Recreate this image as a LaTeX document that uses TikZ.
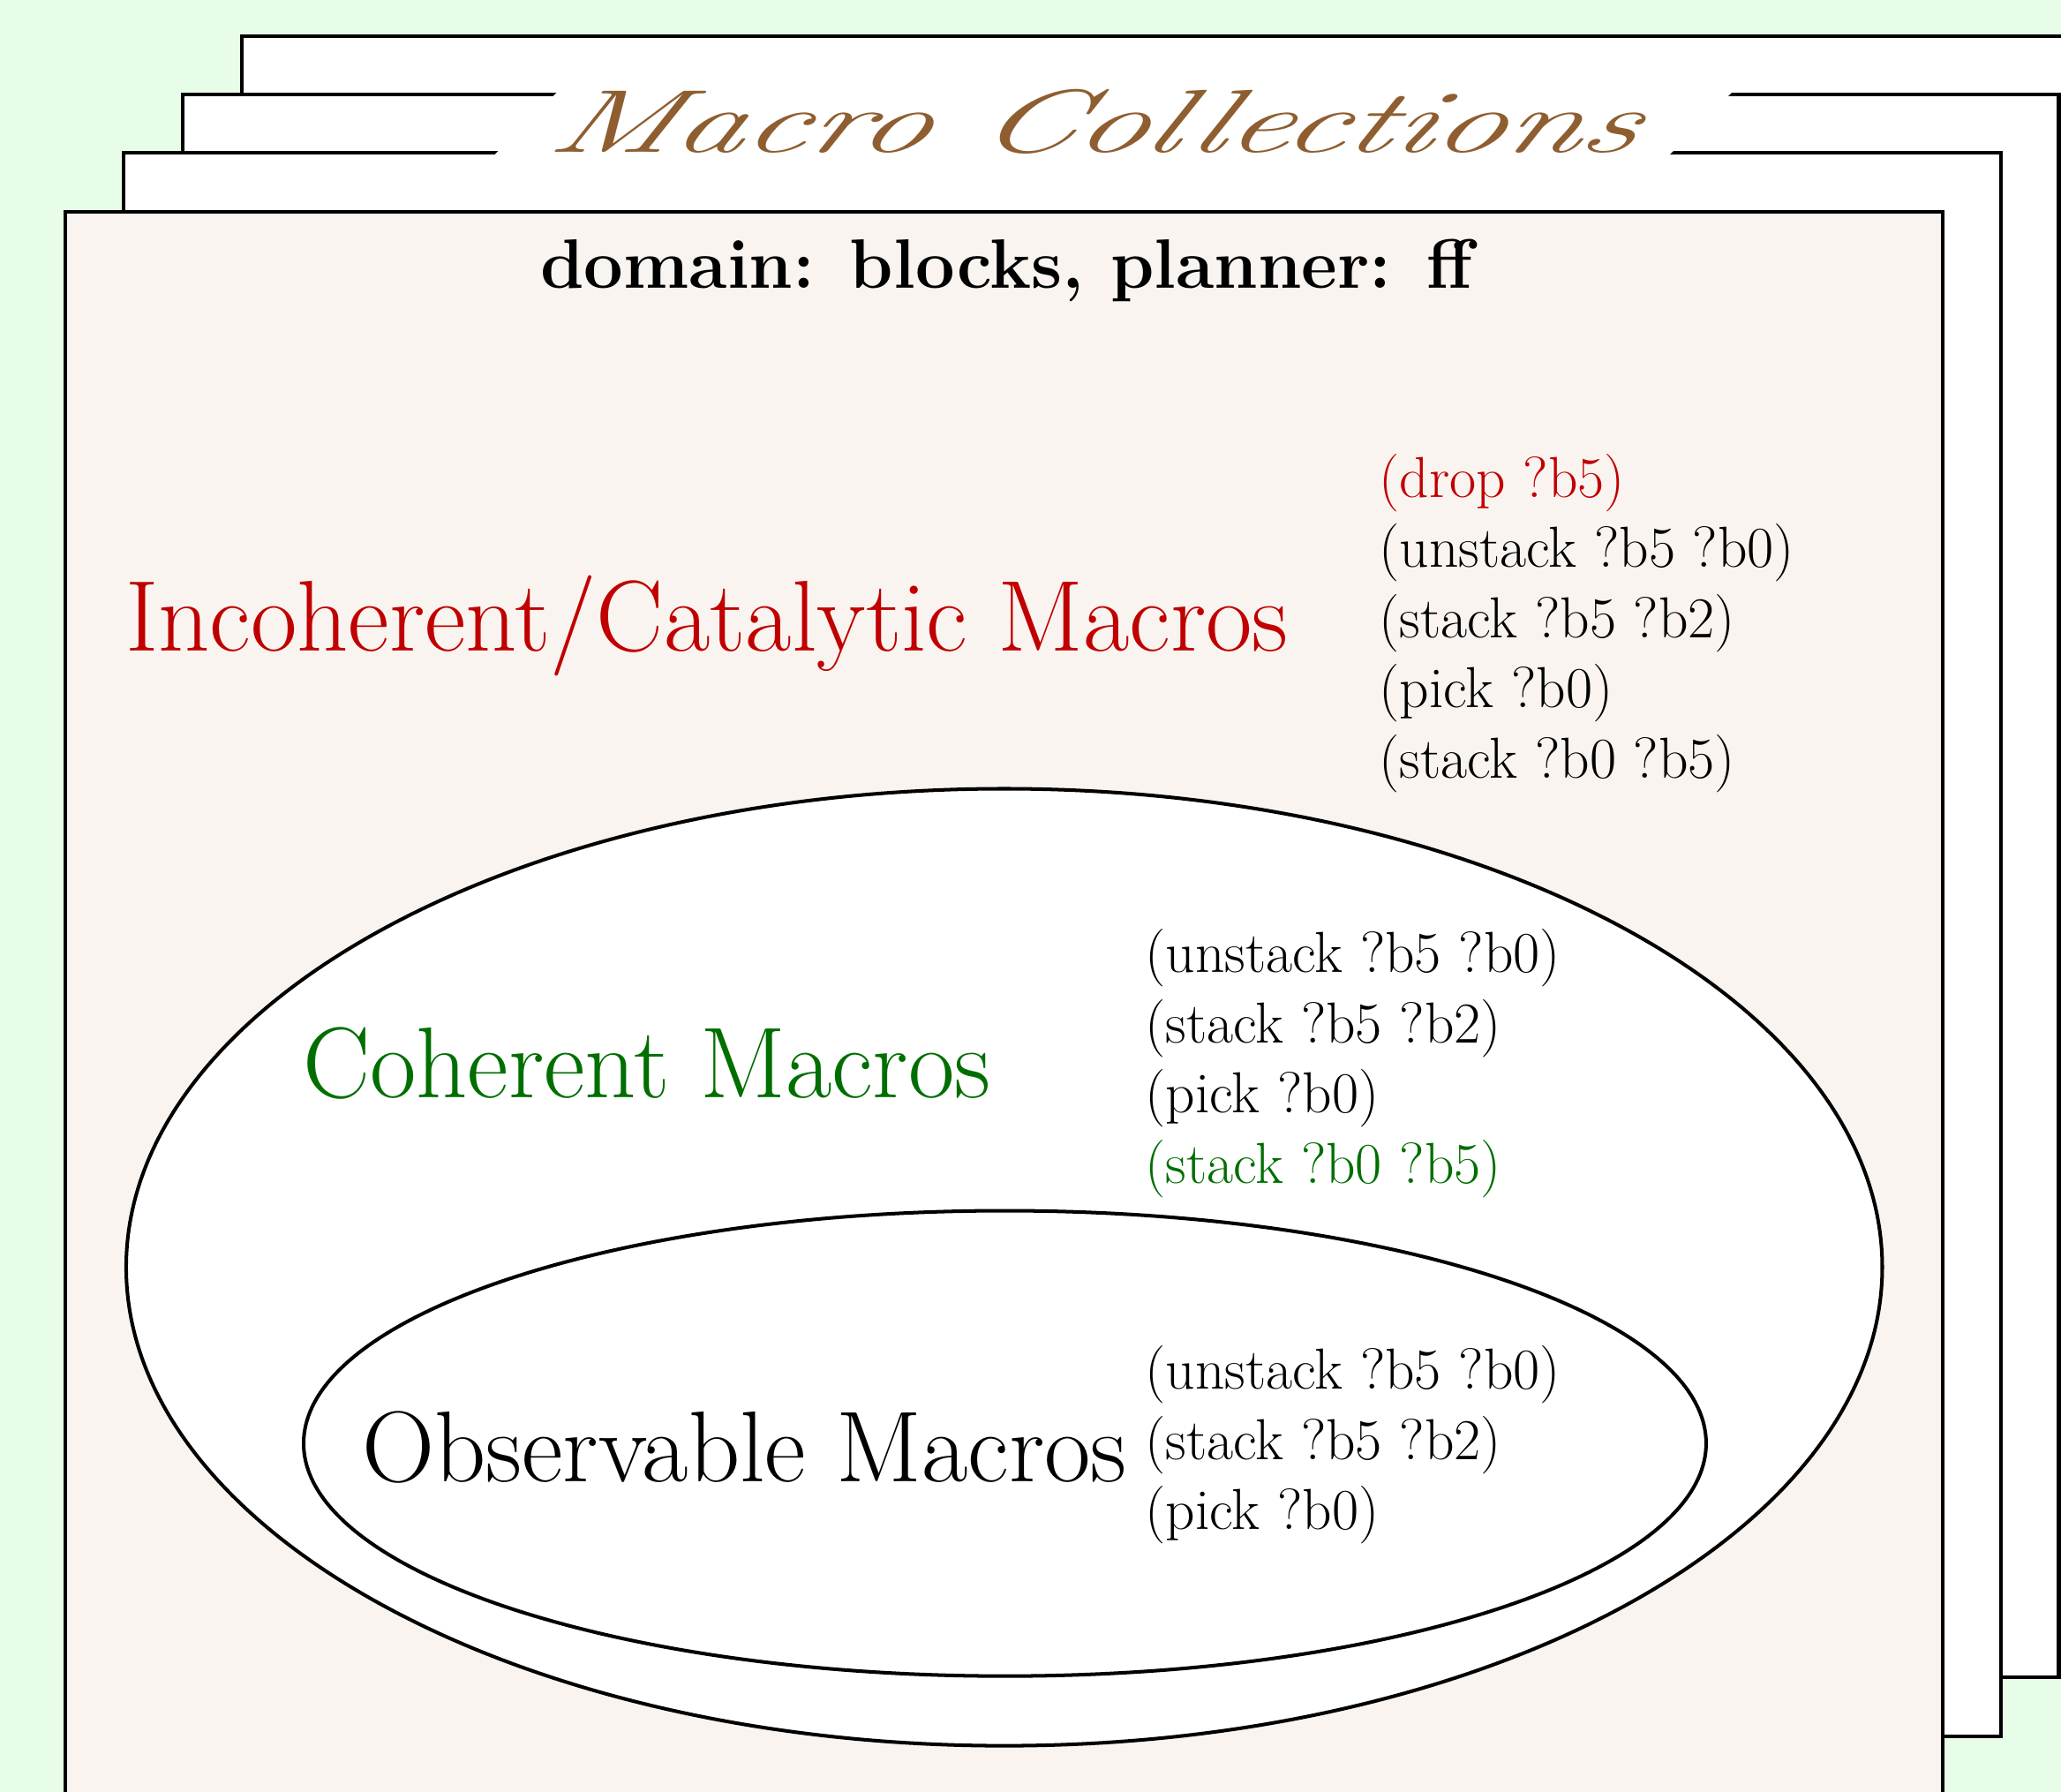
\documentclass[tikz,border=0pt]{standalone}
\definecolor{bggreen}{RGB}{232,253,232}
\definecolor{sheetfill}{RGB}{249,244,240}
\definecolor{titlebrown}{RGB}{143,94,48}
\definecolor{incred}{RGB}{192,0,0}
\definecolor{cohgreen}{RGB}{0,110,0}
\begin{document}
\begin{tikzpicture}[x=0.5pt,y=-0.5pt,
  sheet/.style={draw=black, line width=1.35pt, fill=white},
  frontsheet/.style={draw=black, line width=1.35pt, fill=sheetfill},
  bigset/.style={draw=black, line width=1.35pt, fill=white},
  biglabel/.style={anchor=base west, inner sep=0pt, font=\fontsize{38.3}{46}\selectfont},
  macrolist/.style={anchor=base west, inner sep=0pt, align=left, font=\fontsize{22}{26.7}\selectfont}]
\useasboundingbox[fill=bggreen] (0,0) rectangle (1568,1363);
% stacked sheets
\draw[sheet] (184,27.3) rectangle (1611,1231);
\draw[sheet] (139,72) rectangle (1566.3,1276);
\draw[sheet] (94,116.4) rectangle (1522.3,1320.8);
\draw[frontsheet] (49.5,161) rectangle (1478.2,1366);
% title band
\fill[white] (439,55) -- (1333,55) -- (1253,135) -- (359,135) -- cycle;
\begin{scope}[shift={(828,116)}]
\node[anchor=base, inner sep=0pt, text=titlebrown,
      font=\fontsize{34}{40}\selectfont\itshape,
      xscale=1.57, xslant=0.26, transform shape] (title) at (0,0) {Macro Collections};
\end{scope}
\node[anchor=base, inner sep=0pt, font=\fontsize{26.6}{32}\selectfont\bfseries] (domain) at (765.7,219.4) {domain: blocks, planner: ff};
% nested sets
\draw[bigset] (764,964) ellipse [x radius=334pt, y radius=182pt];
\draw[bigset] (764.5,1098) ellipse [x radius=266.75pt, y radius=88.5pt];
% labels
\node[biglabel, text=incred] (incoherent) at (95,495) {Incoherent/Catalytic Macros};
\node[biglabel, text=cohgreen] (coherent) at (230,835) {Coherent Macros};
\node[biglabel] (observable) at (275,1127) {Observable Macros};
% macro lists (anchored at the baseline of their last line)
\node[macrolist] (inclist) at (1049,591.7) {\textcolor{incred}{(drop ?b5)}\\(unstack ?b5 ?b0)\\(stack ?b5 ?b2)\\(pick ?b0)\\(stack ?b0 ?b5)};
\node[macrolist] (cohlist) at (871,899.9) {(unstack ?b5 ?b0)\\(stack ?b5 ?b2)\\(pick ?b0)\\\textcolor{cohgreen}{(stack ?b0 ?b5)}};
\node[macrolist] (obslist) at (871,1163.5) {(unstack ?b5 ?b0)\\(stack ?b5 ?b2)\\(pick ?b0)};
\end{tikzpicture}
\end{document}
